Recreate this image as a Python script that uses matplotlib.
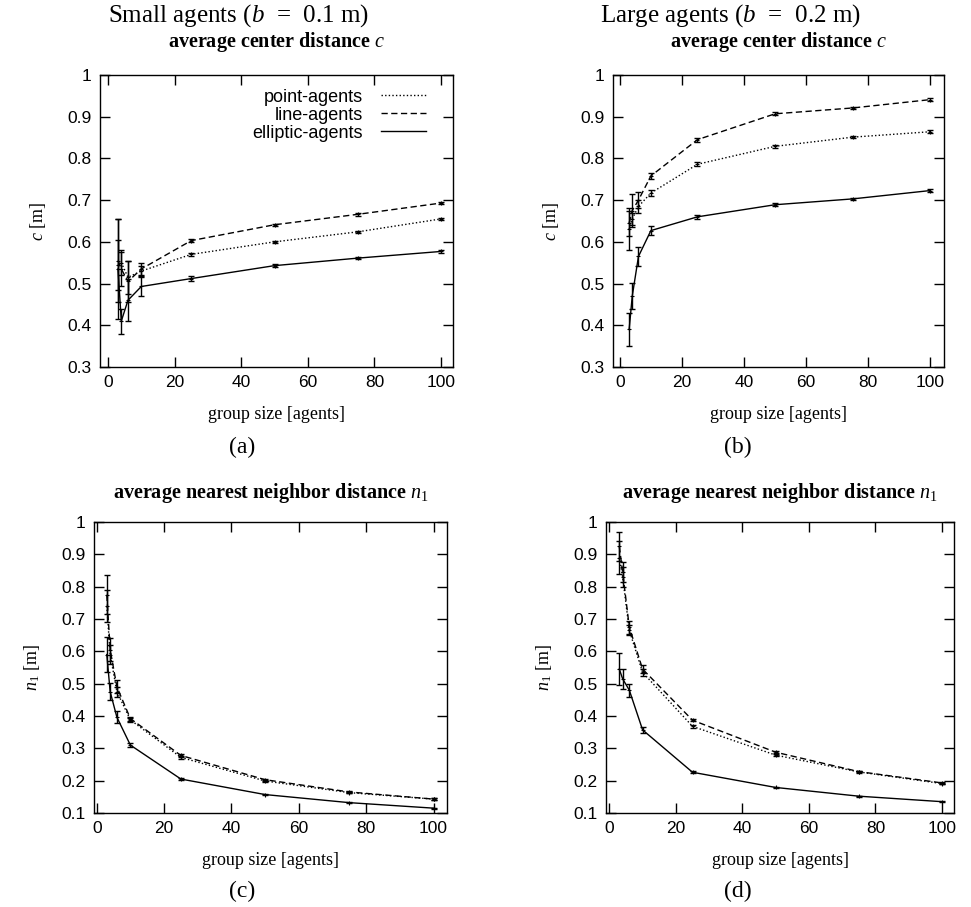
import matplotlib
matplotlib.use("Agg")
import matplotlib.pyplot as plt

plt.rcParams['mathtext.fontset'] = 'custom'
plt.rcParams['mathtext.rm'] = 'Liberation Serif'
plt.rcParams['mathtext.it'] = 'Liberation Serif:italic'
plt.rcParams['mathtext.bf'] = 'Liberation Serif:bold'

# ---------------- data ----------------
group_size = [3, 4, 6, 10, 25, 50, 75, 100]
x_ticks = [0, 20, 40, 60, 80, 100]
series_names = ["point-agents", "line-agents", "elliptic-agents"]

# (a) small agents, center distance c
a_point = [0.545, 0.550, 0.515, 0.530, 0.570, 0.600, 0.624, 0.655]
a_point_err = [0.060, 0.030, 0.040, 0.012, 0.004, 0.003, 0.003, 0.003]
a_line = [0.555, 0.535, 0.505, 0.535, 0.603, 0.641, 0.666, 0.693]
a_line_err = [0.100, 0.040, 0.050, 0.015, 0.004, 0.003, 0.003, 0.003]
a_ell = [0.535, 0.410, 0.460, 0.493, 0.512, 0.543, 0.561, 0.577]
a_ell_err = [0.120, 0.030, 0.050, 0.022, 0.005, 0.004, 0.003, 0.003]

# (b) large agents, center distance c
b_point = [0.630, 0.655, 0.685, 0.717, 0.786, 0.829, 0.851, 0.864]
b_point_err = [0.050, 0.015, 0.015, 0.008, 0.005, 0.004, 0.003, 0.003]
b_line = [0.645, 0.675, 0.700, 0.758, 0.845, 0.907, 0.921, 0.941]
b_line_err = [0.030, 0.040, 0.020, 0.008, 0.005, 0.004, 0.003, 0.003]
b_ell = [0.390, 0.470, 0.565, 0.627, 0.660, 0.689, 0.703, 0.723]
b_ell_err = [0.040, 0.032, 0.022, 0.010, 0.005, 0.003, 0.003, 0.003]

# (c) small agents, nearest neighbor distance n1
c_point = [0.740, 0.590, 0.475, 0.388, 0.272, 0.199, 0.163, 0.143]
c_point_err = [0.050, 0.030, 0.015, 0.006, 0.004, 0.003, 0.002, 0.002]
c_line = [0.775, 0.605, 0.490, 0.392, 0.278, 0.203, 0.165, 0.143]
c_line_err = [0.060, 0.035, 0.020, 0.006, 0.004, 0.003, 0.002, 0.002]
c_ell = [0.590, 0.475, 0.396, 0.310, 0.205, 0.157, 0.132, 0.115]
c_ell_err = [0.055, 0.027, 0.018, 0.006, 0.003, 0.002, 0.002, 0.002]

# (d) large agents, nearest neighbor distance n1
d_point = [0.890, 0.830, 0.665, 0.535, 0.368, 0.279, 0.227, 0.191]
d_point_err = [0.050, 0.030, 0.015, 0.010, 0.004, 0.003, 0.002, 0.002]
d_line = [0.925, 0.845, 0.675, 0.545, 0.387, 0.288, 0.228, 0.193]
d_line_err = [0.045, 0.030, 0.020, 0.012, 0.004, 0.003, 0.002, 0.002]
d_ell = [0.545, 0.515, 0.480, 0.357, 0.226, 0.179, 0.152, 0.135]
d_ell_err = [0.050, 0.030, 0.020, 0.010, 0.003, 0.002, 0.002, 0.002]

# ---------------- style ----------------
W, H = 971, 907
fig = plt.figure(figsize=(W / 100, H / 100), dpi=100)

def frac(left, right, top, bottom):
    return [left / W, 1 - bottom / H, (right - left) / W, (bottom - top) / H]

styles = [(0, (1, 1.6)), (0, (4.5, 2.5)), '-']
serif = 'Liberation Serif'
sans = 'Liberation Sans'

def panel(rect, xlim, ylim, yticks, data, title, ylabel, title_size, title_pad,
          legend=False):
    ax = fig.add_axes(rect)
    lines = []
    for (y, e), ls, name in zip(data, styles, series_names):
        ln, = ax.plot(group_size, y, color='black', lw=1.0, linestyle=ls, label=name)
        lines.append(ln)
        ax.errorbar(group_size, y, yerr=e, fmt='none', ecolor='black',
                    elinewidth=1.0, capsize=2.5, capthick=1.0)
        ax.plot(group_size, y, linestyle='none', marker='+', ms=3, mew=0.8, color='black')
    ax.set_xlim(*xlim)
    ax.set_ylim(*ylim)
    ax.set_xticks(x_ticks)
    ax.set_yticks(yticks)
    ax.set_yticklabels([('%g' % v) for v in yticks])
    ax.tick_params(direction='in', length=7, width=1, top=True, right=True,
                   labelsize=12.5, pad=6)
    for lab in ax.get_xticklabels() + ax.get_yticklabels():
        lab.set_fontfamily(sans)
    for s in ax.spines.values():
        s.set_linewidth(1.0)
    ax.set_xlabel('group size [agents]', fontsize=13, family=serif, labelpad=11)
    ax.set_ylabel(ylabel, fontsize=13, family=serif, labelpad=14)
    ax.set_title(title, fontsize=title_size, family=serif, fontweight='bold',
                 pad=title_pad)
    if legend:
        ax.legend(handles=lines, loc='upper right', bbox_to_anchor=(0.955, 0.99),
                  markerfirst=False, frameon=False, handlelength=2.5,
                  labelspacing=0.05, borderaxespad=0.2, handletextpad=1.0,
                  prop={'family': sans, 'size': 13})
    return ax

yt_top = [0.3, 0.4, 0.5, 0.6, 0.7, 0.8, 0.9, 1.0]
yt_bot = [0.1, 0.2, 0.3, 0.4, 0.5, 0.6, 0.7, 0.8, 0.9, 1.0]

panel(frac(100, 453, 75, 367), (-2.4, 103.6), (0.3, 1.0), yt_top,
      [(a_point, a_point_err), (a_line, a_line_err), (a_ell, a_ell_err)],
      'average center distance $c$', '$c$ [m]', 14.5, 20, legend=True)
panel(frac(613, 944, 75, 367), (-2.2, 104.4), (0.3, 1.0), yt_top,
      [(b_point, b_point_err), (b_line, b_line_err), (b_ell, b_ell_err)],
      'average center distance $c$', '$c$ [m]', 14.5, 20)
panel(frac(94, 447, 522, 813), (-0.8, 104.0), (0.1, 1.0), yt_bot,
      [(c_point, c_point_err), (c_line, c_line_err), (c_ell, c_ell_err)],
      'average nearest neighbor distance $n_1$', '$n_1$ [m]', 14.5, 17)
panel(frac(606, 954, 522, 813), (-1.0, 103.6), (0.1, 1.0), yt_bot,
      [(d_point, d_point_err), (d_line, d_line_err), (d_ell, d_ell_err)],
      'average nearest neighbor distance $n_1$', '$n_1$ [m]', 14.5, 17)

fig.text(238 / W, 1 - 16 / H, 'Small agents ($b$  =  0.1 m)', ha='center', va='center',
         fontsize=18, family=serif)
fig.text(730 / W, 1 - 16 / H, 'Large agents ($b$  =  0.2 m)', ha='center', va='center',
         fontsize=18, family=serif)
fig.text(242 / W, 1 - 447 / H, '(a)', ha='center', va='center', fontsize=17, family=serif)
fig.text(738 / W, 1 - 447 / H, '(b)', ha='center', va='center', fontsize=17, family=serif)
fig.text(242 / W, 1 - 891 / H, '(c)', ha='center', va='center', fontsize=17, family=serif)
fig.text(738 / W, 1 - 891 / H, '(d)', ha='center', va='center', fontsize=17, family=serif)

fig.savefig('out.png', dpi=100)
